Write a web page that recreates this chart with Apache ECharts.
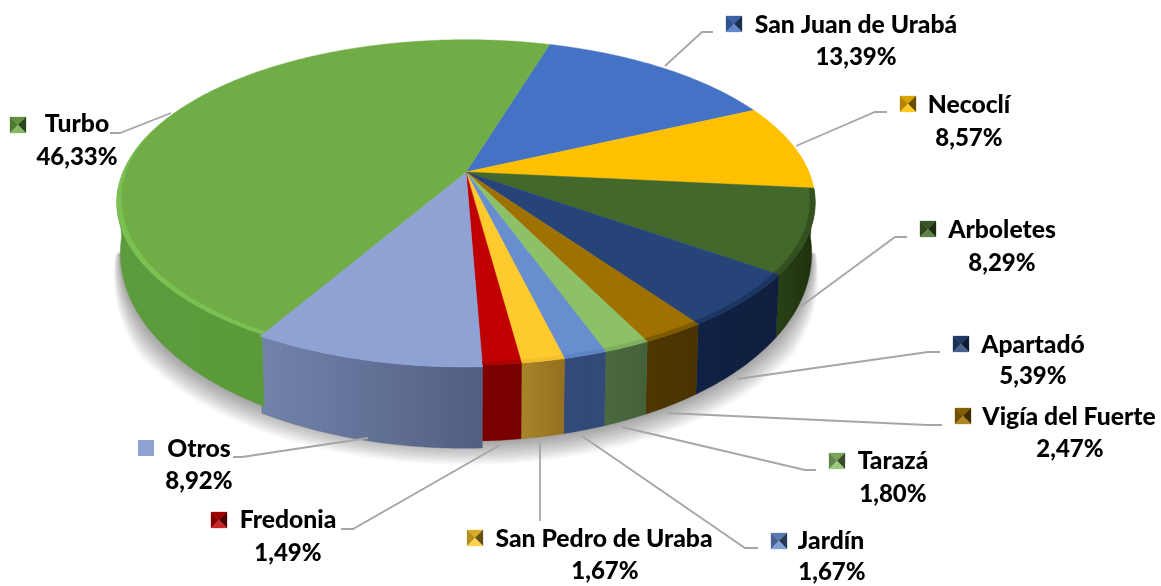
<!DOCTYPE html>
<html>
<head>
<meta charset="utf-8">
<style>html,body{margin:0;padding:0;background:#fff}#c{width:1161px;height:586px}</style>
<script src="https://cdn.jsdelivr.net/npm/echarts@6/dist/echarts.min.js"></script>
</head>
<body>
<div id="c"></div>
<script>
// ---- data (clockwise, starting at the Turbo / San Juan boundary)
const categories = ['San Juan de Urabá','Necoclí','Arboletes','Apartadó','Vigía del Fuerte','Tarazá','Jardín','San Pedro de Uraba','Fredonia','Otros','Turbo'];
const shares = [13.39,8.57,8.29,5.39,2.47,1.80,1.67,1.67,1.49,8.92,46.33];

// ---- styles
const topColors = ['#4472C4','#FFC000','#43682B','#264478','#9E7100','#8CC168','#698ED0','#FFCA2E','#C00000','#8FA2D4','#70AD47'];
const rimColors = ['#4472C4','#C89A10','#33501F','#1B3560','#7D5A00','#7DB05E','#5F84C6','#F2C02C','#B00000','#8FA2D4','#7AC052'];
const wallStops = [
  ['#2F5597','#2F5597'],['#8A6A00','#6E5500'],['#2A4216','#1E300E'],['#0F2246','#0F1E3C'],['#4E3800','#483300'],
  ['#4A6A3E','#44603A'],['#33497A','#324A77'],['#A8842A','#94701E'],['#7C0000','#760000'],['#7284AC','#525E80'],['#5C9C3E','#5A9A38']
];

// ---- pie projection
const C = {cx:466, cy:172, rx:343, ry:157, k:0.187, startDeg:16.7};
const total = shares.reduce((a,b)=>a+b,0);
const spans = []; { let a = C.startDeg; for (const s of shares) { const b = a + s/total*360; spans.push([a,b]); a = b; } }
const explode = i => categories[i]==='Otros' ? {r:1.008, h:5} : {r:1, h:0};
function proj(deg, r){
  const t = deg*Math.PI/180, u = r*Math.sin(t), v = -r*Math.cos(t), d = 1 - C.k*v;
  return [C.cx + C.rx*u/d, C.cy + C.ry*v/d, v];
}
function projBottom(deg, r, extra){
  const p = proj(deg, r);
  return [C.cx + (p[0]-C.cx)*0.99, p[1] + 45 + 31*Math.max(p[2],-0.2) + extra];
}
function arc(a,b,f){ const n=Math.max(2,Math.ceil(Math.abs(b-a))), o=[]; for(let i=0;i<=n;i++) o.push(f(a+(b-a)*i/n)); return o; }

// ---- annotation layout: [leader polyline], name centre, percent centre, icon box
const annot = {
  'San Juan de Urabá':{line:[[665,66],[702,32],[713,32]],name:[856,25],pct:[856,57],icon:[726,16]},
  'Necoclí':{line:[[796,146],[875,112],[887,112]],name:[969,105],pct:[969,138],icon:[900,96]},
  'Arboletes':{line:[[800,307],[895,237],[907,237]],name:[1002,230],pct:[1002,263],icon:[920,221]},
  'Apartadó':{line:[[737,379],[928,352],[940,352]],name:[1033,345],pct:[1033,376],icon:[953,336]},
  'Vigía del Fuerte':{line:[[667,413],[927,425],[942,425]],name:[1069,417],pct:[1070,449],icon:[955,408]},
  'Tarazá':{line:[[622,427],[805,470],[816,470]],name:[893,461],pct:[893,494],icon:[829,453]},
  'Jardín':{line:[[582,436],[745,548],[758,548]],name:[831,541],pct:[832,572],icon:[771,533]},
  'San Pedro de Uraba':{line:[[540,442],[540,521]],name:[604,539],pct:[605,571],icon:[467,530]},
  'Fredonia':{line:[[500,445],[353,529],[341,529]],name:[288,520],pct:[288,553],icon:[211,512]},
  'Otros':{line:[[368,438],[242,457],[233,457]],name:[199,449],pct:[199,481],icon:[138,440],flat:true},
  'Turbo':{line:[[171,113],[120,133],[110,133]],name:[77,124],pct:[77,157],icon:[10,117]}
};
const pctText = v => v.toFixed(2).replace('.',',')+'%';
function mix(hex,f){ // f<1 darker, f>1 lighter
  const n=parseInt(hex.slice(1),16); const c=[n>>16,(n>>8)&255,n&255].map(x=> f<=1? x*f : x+(255-x)*(f-1));
  return 'rgb('+c.map(x=>Math.round(x)).join(',')+')';
}
const VIS0=96, VIS1=264;
const idx = categories.map((_,i)=>[i]);

function wallItem(p){
  const i=p.dataIndex, s=spans[i], e=explode(i);
  const a=Math.max(s[0],VIS0), b=Math.min(s[1],VIS1);
  if (a>=b) return {type:'group',children:[]};
  const top=arc(a,b,d=>proj(d,e.r)), bot=arc(b,a,d=>projBottom(d,e.r,e.h));
  const st=wallStops[i];
  return {type:'polygon',shape:{points:top.map(q=>[q[0],q[1]]).concat(bot)},
    style:{fill:new echarts.graphic.LinearGradient(0,0,1,0,[{offset:0,color:st[0]},{offset:1,color:st[1]}]),stroke:st[1],lineWidth:0.4}};
}
function topItem(p){
  const i=p.dataIndex, s=spans[i], e=explode(i);
  const pts=[proj(0,0)].concat(arc(s[0],s[1],d=>proj(d,e.r))).map(q=>[q[0],q[1]]);
  return {type:'polygon',shape:{points:pts},style:{fill:topColors[i],stroke:topColors[i],lineWidth:0.5}};
}
function rimItem(p){
  const i=p.dataIndex, s=spans[i], e=explode(i);
  const hi=categories[i]==='Turbo'?290:VIS1;
  const a=Math.max(s[0],VIS0), b=Math.min(s[1],hi);
  if (a>=b) return {type:'group',children:[]};
  const o=arc(a,b,d=>proj(d,e.r)).map(q=>[q[0],q[1]]);
  const n=arc(b,a,d=>proj(d,e.r*(1-0.015*Math.min(1,(hi-d)/35)))).map(q=>[q[0],q[1]]);
  return {type:'polygon',shape:{points:o.concat(n)},style:{fill:rimColors[i]}};
}
function annotItem(p){
  const i=p.dataIndex, name=categories[i], A=annot[name], c=topColors[i], [x,y]=A.icon, S=16, m=[x+S/2,y+S/2];
  const font={fontFamily:'Lato, "Noto Sans", sans-serif',fontWeight:'900',fill:'#000',align:'center',verticalAlign:'middle'};
  const tri=(a,b,col)=>({type:'polygon',shape:{points:[a,b,m]},style:{fill:col,stroke:col,lineWidth:0.3}});
  const tl=[x,y],tr=[x+S,y],br=[x+S,y+S],bl=[x,y+S];
  const icon=A.flat?[{type:'rect',shape:{x,y,width:S,height:S},style:{fill:c}}]
    :[tri(tl,tr,mix(c,0.85)),tri(tl,bl,mix(c,0.7)),tri(tr,br,mix(c,0.4)),tri(bl,br,mix(c,1.15))];
  return {type:'group',children:[
    {type:'polyline',shape:{points:A.line},style:{stroke:'#A6A6A6',lineWidth:1.8,fill:'none'}},
    ...icon,
    {type:'text',x:A.name[0],y:A.name[1],style:Object.assign({text:name,fontSize:24.7},font)},
    {type:'text',x:A.pct[0],y:A.pct[1],style:Object.assign({text:pctText(shares[i]),fontSize:24},font)}
  ]};
}
// soft ground shadow built from stacked translucent outlines of the pie's base, tapering to nothing at the sides
function shadowItem(p){
  const n=p.dataIndex+1;
  const pts=arc(100,260,d=>{
    const w=Math.min(1,(90-Math.abs(d-180))/35);
    return projBottom(d,1+n*0.0035*w,n*0.75*w);
  });
  return {type:'polygon',shape:{points:pts},style:{fill:'rgba(0,0,0,0.028)'}};
}
const chart=echarts.init(document.getElementById('c'),null,{renderer:'canvas'});
const custom=(id,z,fn,data)=>({type:'custom',id,coordinateSystem:'none',z,silent:true,animation:false,renderItem:fn,data:data||idx,clip:false});
const shadowLayers=[[14],[13],[12],[11],[10],[9],[8],[7],[6],[5],[4],[3],[2],[1]];
chart.setOption({
  animation:false,backgroundColor:'#fff',
  series:[
    custom('shadow',1,shadowItem,shadowLayers),
    custom('walls',2,wallItem),
    custom('tops',3,topItem),
    custom('rims',4,rimItem),
    custom('annot',5,annotItem)
  ]
});
</script>
</body>
</html>
